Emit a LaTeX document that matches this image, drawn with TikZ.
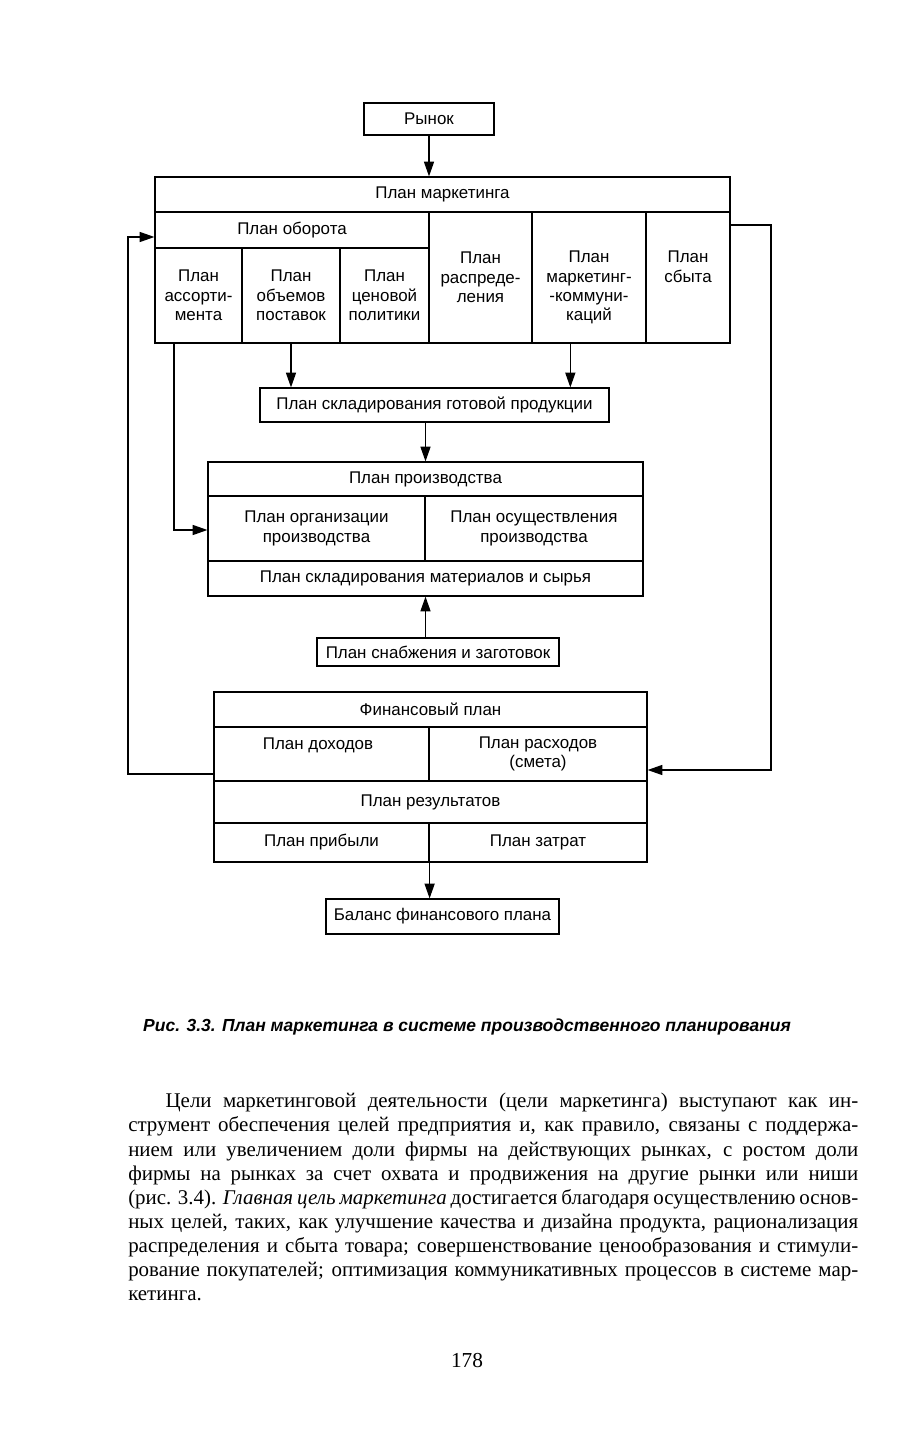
\documentclass[tikz,border=0pt]{standalone}
\usepackage{fontspec}
\setmainfont{Liberation Serif}
\newfontfamily\dfont{Liberation Sans}
\usetikzlibrary{positioning, arrows.meta, calc}

\begin{document}
\begin{tikzpicture}[
    x=0.75pt, y=-0.75pt,
    cell/.style={
      draw, line width=0.9pt, inner sep=0pt, align=center,
      font=\dfont\fontsize{12.7}{14.5}\selectfont
    },
    wh/.style 2 args={minimum width=#1*0.75pt, minimum height=#2*0.75pt},
    celltext/.style={inner sep=0pt, align=center, anchor=north, font=\dfont\fontsize{12.7}{14.5}\selectfont},
    arr/.style={-{Triangle[length=11pt, width=7.5pt]}, line width=0.9pt},
    link/.style={line width=0.9pt}
  ]
  \fill[white] (0,0) rectangle (920,1444);
  \useasboundingbox (0,0) rectangle (920,1444);

  \node[cell, wh={130}{32}] (rynok) at (429,119) {Рынок};

  % marketing plan
  \node[cell, wh={575}{35}] (mk) at (442.5,194.5) {План маркетинга};
  \node[cell, wh={274}{36}] (ob) at (292,230) {План оборота};
  \node[cell, wh={87}{95}] (as) at (198.5,295.5) {План\\ассорти-\\мента};
  \node[cell, wh={98}{95}] (ov) at (291,295.5) {План\\объемов\\поставок};
  \node[cell, wh={89}{95}] (cp) at (384.5,295.5) {План\\ценовой\\политики};
  \node[cell, wh={103}{131}] (rs) at (480.5,277.5) {План\\распреде-\\ления};
  \node[cell, wh={114}{131}] (mc) at (589,277.5) {};
  \node[celltext] (mc-t) at (589,251) {План\\маркетинг-\\-коммуни-\\каций};
  \node[cell, wh={84}{131}] (sb) at (688,277.5) {};
  \node[celltext] (sb-t) at (688,251) {План\\сбыта};

  \node[cell, wh={349}{34}] (skl) at (434.5,405) {План складирования готовой продукции};

  % production plan
  \node[cell, wh={435}{34}] (pr) at (425.5,479) {План производства};
  \node[cell, wh={217}{65}] (po) at (316.5,528.5) {План организации\\производства};
  \node[cell, wh={218}{65}] (pq) at (534,528.5) {План осуществления\\производства};
  \node[cell, wh={435}{35}] (pm) at (425.5,578.5) {План складирования материалов и сырья};

  \node[cell, wh={242}{28}] (sn) at (438,652) {План снабжения и заготовок};

  % financial plan
  \node[cell, wh={433}{35}] (fp) at (430.5,709.5) {Финансовый план};
  \node[cell, wh={215}{54}] (fd) at (321.5,754) {};
  \node[celltext] (fd-t) at (318,738) {План доходов};
  \node[cell, wh={218}{54}] (fr) at (538,754) {План расходов\\(смета)};
  \node[cell, wh={433}{42}] (fz) at (430.5,802) {План результатов};
  \node[cell, wh={215}{39}] (fpr) at (321.5,842.5) {План прибыли};
  \node[cell, wh={218}{39}] (fza) at (538,842.5) {План затрат};

  \node[cell, wh={233}{35}] (bal) at (442.5,916.5) {Баланс финансового плана};

  \coordinate (lb) at (128,774);
  \coordinate (lt) at (128,237);
  \coordinate (rt) at (771,225);
  \coordinate (rb) at (771,770);
  \coordinate (lp) at (174,530);

  \draw[arr] (rynok.south) -- (rynok.south |- mk.north);
  \draw[arr] (ov.south) -- (ov.south |- skl.north);
  \draw[arr] ([xshift=-14pt]mc.south) -- ([xshift=-14pt]mc.south |- skl.north);
  \draw[arr] (skl.south -| pr.north) -- (pr.north);
  \draw[arr] (sn.north -| pm.south) -- (pm.south);
  \draw[arr] (fpr.south east) -- (fpr.south east |- bal.north);
  \draw[arr] (as.south -| lp) -- (lp) -- (po.west |- lp);
  \draw[arr] (fd.west |- lb) -- (lb) -- (lt) -- (ob.west |- lt);
  \draw[arr] (sb.east |- rt) -- (rt) -- (rb) -- (fr.east |- rb);

  % caption and page text
  \node[font=\dfont\bfseries\itshape\fontsize{13.1}{15}\selectfont] (cap) at (467,1027)
    {Рис. 3.3. План маркетинга в системе производственного планирования};
  \node[anchor=north west, inner sep=0pt, align=left, font=\fontsize{15.7}{18.1}\selectfont] (body) at (128,1093) {%
    \makebox[547.5pt][s]{\hspace*{28pt}Цели маркетинговой деятельности (цели маркетинга) выступают как ин-}\\
    \makebox[547.5pt][s]{струмент обеспечения целей предприятия и, как правило, связаны с поддержа-}\\
    \makebox[547.5pt][s]{нием или увеличением доли фирмы на действующих рынках, с ростом доли}\\
    \makebox[547.5pt][s]{фирмы на рынках за счет охвата и продвижения на другие рынки или ниши}\\
    \makebox[547.5pt][s]{(рис. 3.4). \textit{Главная цель маркетинга} достигается благодаря осуществлению основ-}\\
    \makebox[547.5pt][s]{ных целей, таких, как улучшение качества и дизайна продукта, рационализация}\\
    \makebox[547.5pt][s]{распределения и сбыта товара; совершенствование ценообразования и стимули-}\\
    \makebox[547.5pt][s]{рование покупателей; оптимизация коммуникативных процессов в системе мар-}\\
    кетинга.};
  \node[font=\fontsize{16}{18}\selectfont] (page) at (467,1360) {178};
\end{tikzpicture}
\end{document}
